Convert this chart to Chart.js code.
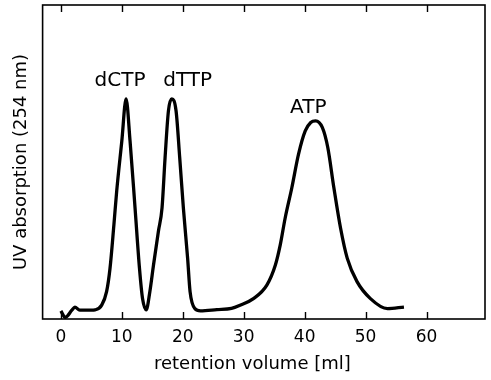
<!DOCTYPE html>
<html>
<head>
<meta charset="utf-8">
<script src="https://cdn.jsdelivr.net/npm/chart.js@4"></script>
<style>
    html, body { margin: 0; padding: 0; background: #fff; }
    #wrap { width: 491px; height: 380px; }
</style>
</head>
<body>
<div id="wrap"><canvas id="chromChart" width="491" height="380"></canvas></div>
<script>
// values (x in ml, y in arbitrary absorption units)
const retentionVolume = [0, 0.7, 1.8, 2.3, 3.1, 5.0,
    5.6, 6.7, 7.5, 8.06, 8.7, 9.16, 10.0, 10.7, 11.35, 12.17, 12.9, 13.4, 14.0,
    14.6, 15.2, 16.0, 16.6, 17.1, 17.65, 18.2, 18.9, 19.5, 20.1, 20.8, 21.2, 22.0, 22.9,
    25.6, 28.0, 29.4, 31.6, 33.8, 35.2, 36.0, 36.8, 37.9, 39.0, 40.1, 41.0, 41.8,
    42.9, 43.8, 44.8, 45.9, 47.0, 48.6, 50.8, 53.6, 56.3];
const absorption = [2.6, 0.5, 2.8, 3.8, 2.8, 2.8,
    2.9, 4.4, 8.7, 16.1, 30.0, 40.7, 56.7, 70.1, 56.7, 35.4, 16.1, 6.5, 2.9,
    8.7, 17.2, 27.9, 35.4, 51.4, 66.3, 70.1, 66.3, 51.4, 35.4, 19.3, 8.7, 3.3, 2.6,
    3.0, 3.4, 4.4, 6.5, 10.8, 17.2, 23.6, 32.1, 41.8, 52.5, 59.9, 62.6, 63.1,
    61.0, 54.6, 41.8, 28.9, 19.3, 11.9, 6.5, 3.3, 3.8];

const xTickValues = [0, 10, 20, 30, 40, 50, 60];

const peakNames = ["dCTP", "dTTP", "ATP"];
const peakLabelX = [9.7, 20.8, 40.6];
const peakLabelY = [76, 76, 67.3];

const FONT = "'DejaVu Sans', sans-serif";

// frame, inward ticks and peak names
const decorPlugin = {
    id: "decor",
    afterDatasetsDraw(chart) {
        const { ctx, chartArea, scales } = chart;
        ctx.save();
        ctx.strokeStyle = "#000";
        ctx.lineWidth = 1.6;
        ctx.strokeRect(chartArea.left, chartArea.top, chartArea.right - chartArea.left, chartArea.bottom - chartArea.top);

        ctx.lineWidth = 1.4;
        xTickValues.forEach((v) => {
            const px = Math.round(scales.x.getPixelForValue(v)) + 0.5;
            ctx.beginPath();
            ctx.moveTo(px, chartArea.bottom);
            ctx.lineTo(px, chartArea.bottom - 7);
            ctx.moveTo(px, chartArea.top);
            ctx.lineTo(px, chartArea.top + 7);
            ctx.stroke();
        });

        ctx.fillStyle = "#000";
        ctx.font = "20px " + FONT;
        ctx.textAlign = "center";
        ctx.textBaseline = "middle";
        peakNames.forEach((name, i) => {
            ctx.fillText(name, scales.x.getPixelForValue(peakLabelX[i]), scales.y.getPixelForValue(peakLabelY[i]));
        });
        ctx.restore();
    },
};

const points = retentionVolume.map((v, i) => ({ x: v, y: absorption[i] }));

new Chart(document.getElementById("chromChart"), {
    type: "line",
    data: {
        datasets: [
            {
                label: "UV absorption",
                data: points,
                borderColor: "#000",
                borderWidth: 3.3,
                pointRadius: 0,
                cubicInterpolationMode: "monotone",
                fill: false,
            },
        ],
    },
    options: {
        responsive: false,
        animation: false,
        layout: { padding: { top: 5, right: 6, left: 11, bottom: 5 } },
        plugins: {
            legend: { display: false },
            tooltip: { enabled: false },
        },
        scales: {
            x: {
                type: "linear",
                min: -3,
                max: 69.6,
                afterBuildTicks: (scale) => {
                    scale.ticks = xTickValues.map((v) => ({ value: v }));
                },
                grid: { display: false },
                border: { display: false },
                ticks: {
                    color: "#000",
                    font: { family: FONT, size: 17 },
                    padding: 0,
                    maxRotation: 0,
                },
                title: {
                    display: true,
                    // trailing spaces nudge the title left, as in the original figure
                    text: "retention volume [ml]\u00a0\u00a0\u00a0\u00a0",
                    color: "#000",
                    font: { family: FONT, size: 18 },
                    padding: { top: 6, bottom: 0 },
                },
            },
            y: {
                min: 0,
                max: 100,
                grid: { display: false },
                border: { display: false },
                ticks: { display: false },
                title: {
                    display: true,
                    text: "UV absorption (254 nm)",
                    color: "#000",
                    font: { family: FONT, size: 18 },
                    padding: { top: 0, bottom: 2 },
                },
            },
        },
    },
    plugins: [decorPlugin],
});
</script>
</body>
</html>
